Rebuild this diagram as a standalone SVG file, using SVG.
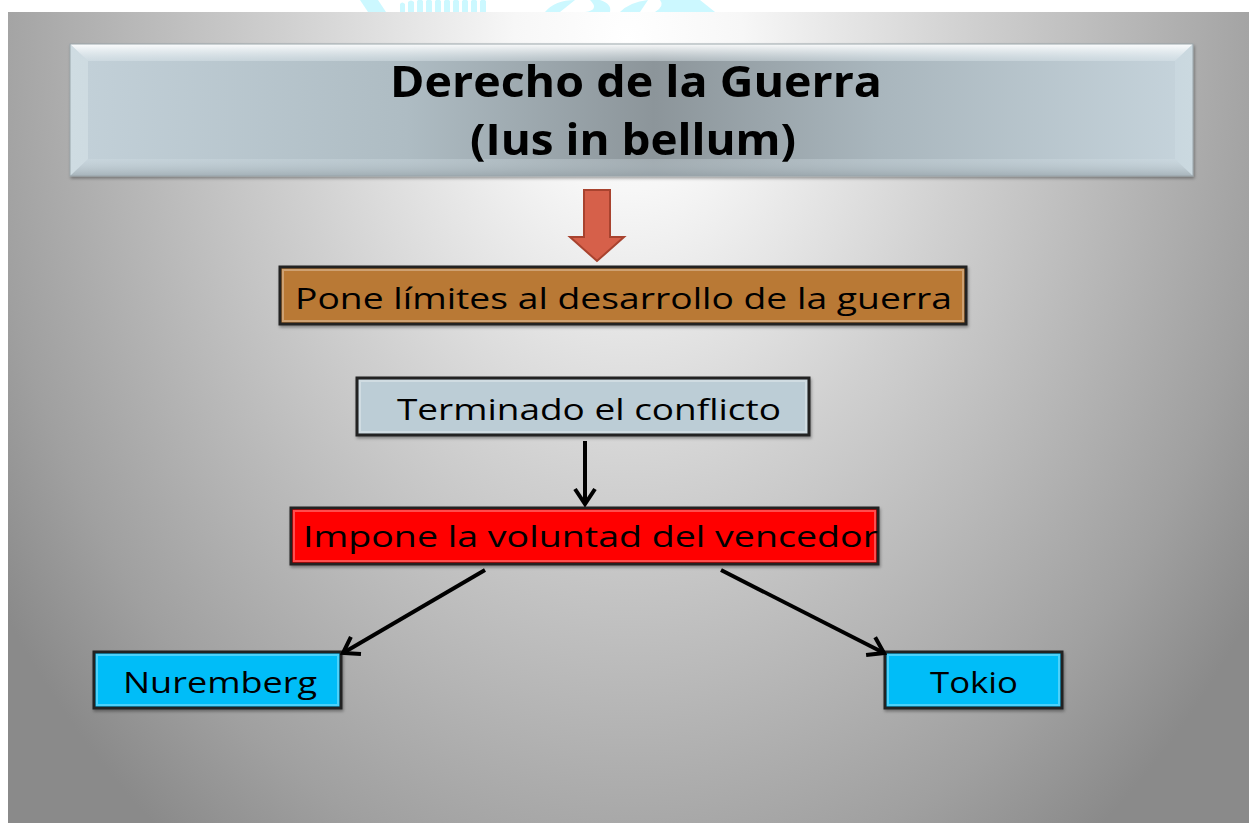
<svg xmlns="http://www.w3.org/2000/svg" width="1249" height="823" viewBox="0 0 1249 823">
<defs>
<radialGradient id="bg" gradientUnits="userSpaceOnUse" cx="628" cy="40" r="760" gradientTransform="translate(628 40) scale(1 1.32) translate(-628 -40)">
<stop offset="0" stop-color="#ffffff"/>
<stop offset="0.15" stop-color="#f7f7f7"/>
<stop offset="0.45" stop-color="#d0d0d0"/>
<stop offset="0.7" stop-color="#b2b2b2"/>
<stop offset="0.85" stop-color="#a0a0a0"/>
<stop offset="1" stop-color="#8a8a8a"/>
</radialGradient>
<linearGradient id="titleFill" x1="0" y1="0" x2="1" y2="0">
<stop offset="0" stop-color="#c3d1d9"/>
<stop offset="0.3" stop-color="#aebcc3"/>
<stop offset="0.52" stop-color="#8c959a"/>
<stop offset="0.72" stop-color="#a9b6bd"/>
<stop offset="1" stop-color="#c6d4dc"/>
</linearGradient>
<linearGradient id="bevTop" x1="0" y1="0" x2="0" y2="1">
<stop offset="0" stop-color="#ffffff" stop-opacity="0.95"/>
<stop offset="1" stop-color="#dfe9ee" stop-opacity="0.4"/>
</linearGradient>
<linearGradient id="bevBot" x1="0" y1="0" x2="0" y2="1">
<stop offset="0" stop-color="#d4e0e6" stop-opacity="0.3"/>
<stop offset="1" stop-color="#9aa6ac" stop-opacity="0.7"/>
</linearGradient>
<filter id="shadow" x="-5%" y="-10%" width="110%" height="130%">
<feDropShadow dx="1" dy="2" stdDeviation="1.5" flood-color="#000" flood-opacity="0.35"/>
</filter>
<marker id="arr" viewBox="0 0 20 24" refX="17" refY="12" markerWidth="20" markerHeight="24" markerUnits="userSpaceOnUse" orient="auto">
<path d="M2,2 L17,12 L2,22" fill="none" stroke="#000" stroke-width="4" stroke-linejoin="miter"/>
</marker>
<style>
.box { stroke: #222; stroke-width: 3; filter: url(#shadow); }
.hl { fill: none; stroke: #ffffff; stroke-opacity: 0.3; stroke-width: 2; }
.lbl { font-family: "Open Sans", "Liberation Sans", sans-serif; font-size: 30px; fill: #000; }
.ttl { font-family: "Open Sans", "Liberation Sans", sans-serif; font-size: 43px; font-weight: 700; fill: #000; }
.conn { stroke: #000; stroke-width: 4; fill: none; marker-end: url(#arr); }
</style>
</defs>

<rect x="0" y="0" width="1249" height="823" fill="#ffffff"/>
<g id="logo" fill="#ccf8ff">
<path d="M360,0 L378,0 L386,12 L368,12 Z"/>
<path d="M400,12 L400,4 Q402,1 405,4 L405,12 Z M408,12 L408,2 Q411,-1 414,2 L414,12 Z M417,12 L417,1 Q420,-2 423,1 L423,12 Z M426,12 L426,1 Q429,-2 432,1 L432,12 Z M435,12 L435,1 Q438,-2 441,1 L441,12 Z M444,12 L444,1 Q447,-2 450,1 L450,12 Z M453,12 L453,1 Q456,-2 459,1 L459,12 Z M462,12 L462,1 Q465,-2 468,1 L468,12 Z M471,12 L471,1 Q474,-2 477,1 L477,12 Z M480,12 L480,1 Q483,-2 486,1 L486,12 Z"/>
<path d="M545,12 Q555,0 575,0 L560,12 Z M590,0 Q600,10 585,12 L610,12 Q612,4 600,0 Z M620,12 Q630,2 648,0 L640,12 Z M660,0 L700,0 L715,12 L655,12 Q665,6 660,0 Z"/>
</g>
<rect x="8" y="12" width="1241" height="811" fill="url(#bg)"/>

<g id="title" filter="url(#shadow)">
<rect x="70" y="44" width="1123" height="132" fill="url(#titleFill)"/>
<polygon points="70,44 1193,44 1175,61 88,61" fill="url(#bevTop)"/>
<polygon points="70,44 88,61 88,159 70,176" fill="#dde8ee" fill-opacity="0.45"/>
<polygon points="1193,44 1193,176 1175,159 1175,61" fill="#d5e1e7" fill-opacity="0.35"/>
<polygon points="70,176 88,159 1175,159 1193,176" fill="url(#bevBot)"/>
<rect x="70" y="44" width="1123" height="132" fill="none" stroke="#9aa5aa" stroke-width="1"/>
<text class="ttl" x="636" y="97" text-anchor="middle" textLength="492" lengthAdjust="spacingAndGlyphs">Derecho de la Guerra</text>
<text class="ttl" x="633" y="155" text-anchor="middle" textLength="326" lengthAdjust="spacingAndGlyphs">(Ius in bellum)</text>
</g>

<g id="big-arrow">
<polygon points="584,190 610,190 610,237 624,237 597,261 570,237 584,237" fill="#d6604a" stroke="#a8432f" stroke-width="2" stroke-linejoin="miter"/>
</g>

<g id="pone">
<rect class="box" x="280" y="267" width="686" height="57" fill="#b97935"/>
<rect class="hl" x="283" y="270" width="680" height="51"/>
<text class="lbl" x="295" y="309" textLength="657" lengthAdjust="spacingAndGlyphs">Pone límites al desarrollo de la guerra</text>
</g>

<g id="terminado">
<rect class="box" x="357" y="378" width="452" height="57" fill="#bccdd6"/>
<rect class="hl" x="360" y="381" width="446" height="51"/>
<text class="lbl" x="397" y="420" textLength="384" lengthAdjust="spacingAndGlyphs">Terminado el conflicto</text>
</g>

<g id="impone">
<rect class="box" x="291" y="508" width="587" height="56" fill="#ff0000"/>
<rect class="hl" x="294" y="511" width="581" height="50"/>
<text class="lbl" x="303" y="547" textLength="575" lengthAdjust="spacingAndGlyphs">Impone la voluntad del vencedor</text>
</g>

<g id="nuremberg">
<rect class="box" x="94" y="652" width="247" height="56" fill="#04bdf8"/>
<rect class="hl" x="97" y="655" width="241" height="50"/>
<text class="lbl" x="123" y="693" textLength="194" lengthAdjust="spacingAndGlyphs">Nuremberg</text>
</g>

<g id="tokio">
<rect class="box" x="885" y="652" width="177" height="56" fill="#04bdf8"/>
<rect class="hl" x="888" y="655" width="171" height="50"/>
<text class="lbl" x="930" y="693" textLength="88" lengthAdjust="spacingAndGlyphs">Tokio</text>
</g>

<g id="connectors">
<line class="conn" x1="585" y1="441" x2="585" y2="504"/>
<line class="conn" x1="485" y1="570" x2="343" y2="653"/>
<line class="conn" x1="721" y1="570" x2="884" y2="653"/>
</g>
</svg>
